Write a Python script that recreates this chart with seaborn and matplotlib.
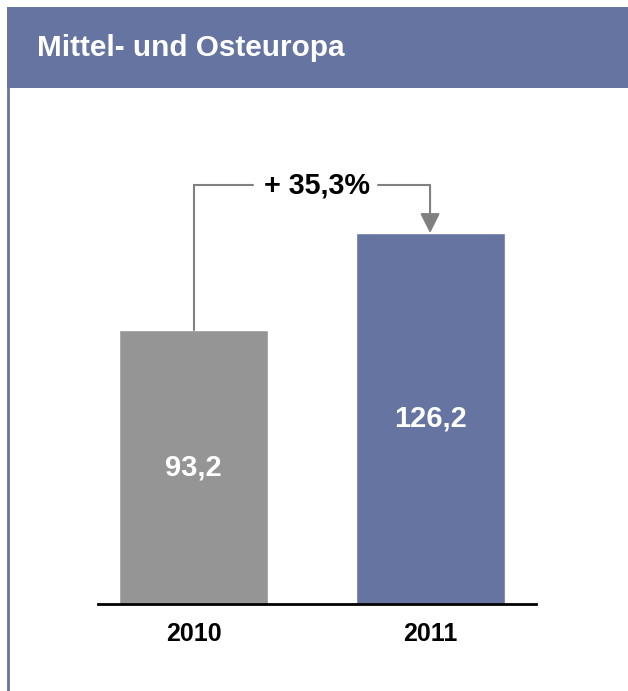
import matplotlib
matplotlib.use("Agg")
import matplotlib.pyplot as plt
import seaborn as sns
from matplotlib.patches import Rectangle
from matplotlib.lines import Line2D

# Data
years = ["2010", "2011"]
values = [93.2, 126.2]
change_label = "+ 35,3%"
title = "Mittel- und Osteuropa"

BLUE = "#6574a0"
GRAY = "#959595"
LINE_GRAY = "#808080"

sns.set_theme(style="white")
plt.rcParams["font.family"] = ["Liberation Sans", "DejaVu Sans"]

W, H = 628, 691
fig = plt.figure(figsize=(W / 100, H / 100), dpi=100)

# header band and left border
fig.patches.append(Rectangle((7 / W, 1 - 88 / H), 1, 81 / H, transform=fig.transFigure,
                             facecolor=BLUE, edgecolor="none", zorder=0))
fig.lines.append(Line2D([8 / W, 8 / W], [0, 1 - 88 / H], transform=fig.transFigure,
                        color=BLUE, lw=2))
fig.text(37 / W, 1 - 48 / H, title, color="white", fontsize=21.4, fontweight="bold",
         ha="left", va="center")

# main axes (pixel-matched)
ax = fig.add_axes([98 / W, 87 / H, 438 / W, 504 / H])
sns.barplot(x=years, y=values, hue=years, palette=[GRAY, BLUE], legend=False,
            width=0.63, saturation=1, ax=ax)
ax.set_xlim(-0.404, 1.448)
ax.set_ylim(0, 171.5)

for s in ["top", "right", "left"]:
    ax.spines[s].set_visible(False)
ax.spines["bottom"].set_color("black")
ax.spines["bottom"].set_linewidth(2)
ax.set_yticks([])
ax.set_xlabel("")
ax.set_ylabel("")
ax.tick_params(axis="x", length=0, pad=13, labelsize=18)
for lbl in ax.get_xticklabels():
    lbl.set_fontweight("bold")
    lbl.set_color("black")

# value labels inside bars
for i, v in enumerate(values):
    ax.text(i, v / 2, f"{v:.1f}".replace(".", ","), color="white", fontsize=21,
            fontweight="bold", ha="center", va="center")

# growth bracket
level = 142.5
ax.plot([0, 0, 0.25], [values[0], level, level], color=LINE_GRAY, lw=1.5,
        solid_joinstyle="miter")
ax.plot([0.78, 1], [level, level], color=LINE_GRAY, lw=1.5)
ax.annotate("", xy=(1, values[1]), xytext=(1, level),
            arrowprops=dict(arrowstyle="-|>", color=LINE_GRAY, lw=1.5,
                            mutation_scale=30, shrinkA=0, shrinkB=0))
ax.text(0.52, level, change_label, fontsize=20.7, fontweight="bold", color="black",
        ha="center", va="center")

fig.savefig("out.png", dpi=100)
